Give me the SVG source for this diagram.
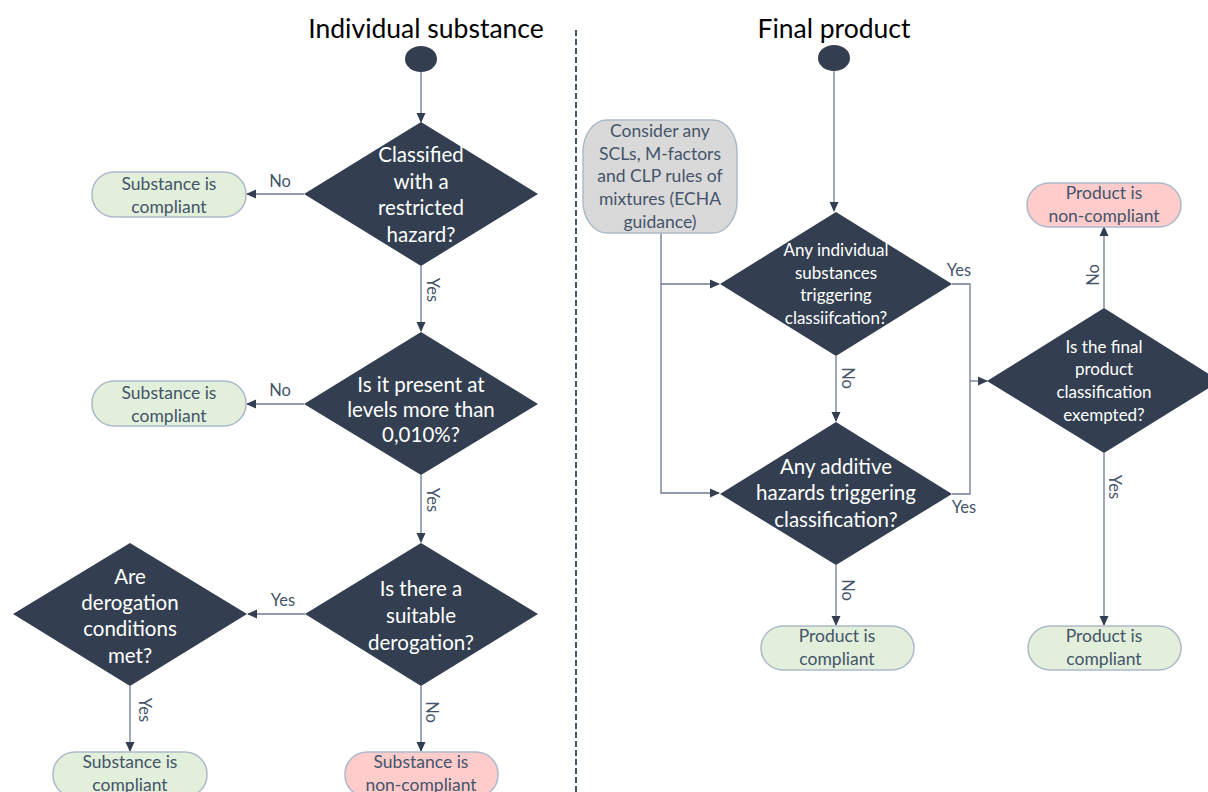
<svg xmlns="http://www.w3.org/2000/svg" width="1208" height="792" viewBox="0 0 1208 792">
<defs>
<marker id="arr" markerWidth="10" markerHeight="10" refX="9" refY="5" orient="auto" markerUnits="userSpaceOnUse">
<path d="M0,0.5 L10,5 L0,9.5 z" fill="#333F50"/>
</marker>
<style>
.dia{fill:#333F50;}
.dt{fill:#FFFFFF;font-family:Lato,"Liberation Sans",sans-serif;text-anchor:middle;}
.big{font-size:20.5px;}
.sm{font-size:17px;}
.term{stroke:#ADB9CA;stroke-width:1.5;}
.green{fill:#E2EFDA;}
.red{fill:#FFCCCC;}
.grey{fill:#D9D9D9;}
.tt{fill:#44546A;font-family:Lato,"Liberation Sans",sans-serif;font-size:17.5px;text-anchor:middle;}
.start{fill:#333F50;}
.title{fill:#000000;font-family:Lato,"Liberation Sans",sans-serif;font-size:26.5px;text-anchor:middle;}
.edge{fill:none;stroke:#6B7A90;stroke-width:1.3;}
.lbl{fill:#44546A;font-family:Lato,"Liberation Sans",sans-serif;font-size:16.5px;text-anchor:middle;}
</style>
</defs>
<rect width="1208" height="792" fill="#FFFFFF"/>

<g id="titles">
<text class="title" x="426" y="38">Individual substance</text>
<text class="title" x="834" y="38">Final product</text>
</g>
<line id="divider" x1="576" y1="30" x2="576" y2="792" stroke="#44546A" stroke-width="2" stroke-dasharray="6,3"/>

<g id="connectors">
<line class="edge" x1="421" y1="72" x2="421" y2="122" marker-end="url(#arr)"/>
<line class="edge" x1="304" y1="194" x2="247" y2="194" marker-end="url(#arr)"/>
<line class="edge" x1="421" y1="266" x2="421" y2="331" marker-end="url(#arr)"/>
<line class="edge" x1="304" y1="404" x2="247" y2="404" marker-end="url(#arr)"/>
<line class="edge" x1="421" y1="475" x2="421" y2="542" marker-end="url(#arr)"/>
<line class="edge" x1="305" y1="614" x2="248" y2="614" marker-end="url(#arr)"/>
<line class="edge" x1="130" y1="686" x2="130" y2="751" marker-end="url(#arr)"/>
<line class="edge" x1="421" y1="686" x2="421" y2="751" marker-end="url(#arr)"/>
<line class="edge" x1="834" y1="71" x2="834" y2="211" marker-end="url(#arr)"/>
<path class="edge" d="M661,233 L661,493 L719,493" marker-end="url(#arr)"/>
<path class="edge" d="M661,284 L719,284" marker-end="url(#arr)"/>
<line class="edge" x1="836" y1="356" x2="836" y2="421" marker-end="url(#arr)"/>
<path class="edge" d="M952,284 L970,284 L970,494 L952,494"/>
<path class="edge" d="M970,381 L987,381" marker-end="url(#arr)"/>
<line class="edge" x1="1104" y1="308" x2="1104" y2="227" marker-end="url(#arr)"/>
<line class="edge" x1="1104" y1="453" x2="1104" y2="625" marker-end="url(#arr)"/>
<line class="edge" x1="836" y1="565" x2="836" y2="625" marker-end="url(#arr)"/>
<text class="lbl" x="280" y="187">No</text>
<text class="lbl" x="280" y="396">No</text>
<text class="lbl" x="283" y="606">Yes</text>
<text class="lbl" transform="translate(427,290) rotate(90)">Yes</text>
<text class="lbl" transform="translate(427,500) rotate(90)">Yes</text>
<text class="lbl" transform="translate(139,710) rotate(90)">Yes</text>
<text class="lbl" transform="translate(426,712) rotate(90)">No</text>
<text class="lbl" x="959" y="276">Yes</text>
<text class="lbl" x="964" y="513">Yes</text>
<text class="lbl" transform="translate(842,378) rotate(90)">No</text>
<text class="lbl" transform="translate(842,590) rotate(90)">No</text>
<text class="lbl" transform="translate(1099,275) rotate(-90)">No</text>
<text class="lbl" transform="translate(1109,487) rotate(90)">Yes</text>
</g>

<g id="start-substance"><ellipse class="start" cx="421" cy="59" rx="16" ry="13"/></g>
<g id="start-product"><ellipse class="start" cx="834" cy="58" rx="16" ry="13"/></g>

<g id="d1">
<polygon class="dia" points="421,122 538,194 421,266 304,194"/>
<text class="dt big" x="421" y="162">Classified</text>
<text class="dt big" x="421" y="189">with a</text>
<text class="dt big" x="421" y="215">restricted</text>
<text class="dt big" x="421" y="242">hazard?</text>
</g>
<g id="t1">
<rect class="term green" x="92" y="172" width="154" height="45" rx="22"/>
<text class="tt" x="169" y="190">Substance is</text>
<text class="tt" x="169" y="213">compliant</text>
</g>

<g id="d2">
<polygon class="dia" points="421,332 538,404 421,475 304,404"/>
<text class="dt big" x="421" y="392">Is it present at</text>
<text class="dt big" x="421" y="417">levels more than</text>
<text class="dt big" x="421" y="442">0,010%?</text>
</g>
<g id="t2">
<rect class="term green" x="92" y="381" width="154" height="45" rx="22"/>
<text class="tt" x="169" y="399">Substance is</text>
<text class="tt" x="169" y="422">compliant</text>
</g>

<g id="d3">
<polygon class="dia" points="421,543 538,614 421,686 305,614"/>
<text class="dt big" x="421" y="596">Is there a</text>
<text class="dt big" x="421" y="623">suitable</text>
<text class="dt big" x="421" y="650">derogation?</text>
</g>
<g id="d4">
<polygon class="dia" points="130,543 247,614 130,686 13,614"/>
<text class="dt big" x="130" y="584">Are</text>
<text class="dt big" x="130" y="610">derogation</text>
<text class="dt big" x="130" y="636">conditions</text>
<text class="dt big" x="130" y="663">met?</text>
</g>
<g id="t3">
<rect class="term green" x="53" y="752" width="154" height="45" rx="22"/>
<text class="tt" x="130" y="768">Substance is</text>
<text class="tt" x="130" y="791">compliant</text>
</g>
<g id="t4">
<rect class="term red" x="345" y="752" width="153" height="45" rx="22"/>
<text class="tt" x="421" y="768">Substance is</text>
<text class="tt" x="421" y="791">non-compliant</text>
</g>

<g id="g1">
<rect class="term grey" x="583" y="120" width="154" height="113" rx="24" ry="32"/>
<text class="tt sm" x="660" y="137">Consider any</text>
<text class="tt sm" x="660" y="160">SCLs, M-factors</text>
<text class="tt sm" x="660" y="182">and CLP rules of</text>
<text class="tt sm" x="660" y="205">mixtures (ECHA</text>
<text class="tt sm" x="660" y="228">guidance)</text>
</g>

<g id="da">
<polygon class="dia" points="836,212 952,284 836,356 720,284"/>
<text class="dt sm" x="836" y="256">Any individual</text>
<text class="dt sm" x="836" y="279">substances</text>
<text class="dt sm" x="836" y="301">triggering</text>
<text class="dt sm" x="836" y="324">classiifcation?</text>
</g>
<g id="db">
<polygon class="dia" points="836,422 952,494 836,565 720,494"/>
<text class="dt big" x="836" y="474">Any additive</text>
<text class="dt big" x="836" y="500">hazards triggering</text>
<text class="dt big" x="836" y="527">classification?</text>
</g>
<g id="dc">
<polygon class="dia" points="1104,308 1220,381 1104,453 987,381"/>
<text class="dt sm" x="1104" y="353">Is the final</text>
<text class="dt sm" x="1104" y="375">product</text>
<text class="dt sm" x="1104" y="398">classification</text>
<text class="dt sm" x="1104" y="421">exempted?</text>
</g>
<g id="t5">
<rect class="term red" x="1027" y="183" width="154" height="44" rx="22"/>
<text class="tt" x="1104" y="199">Product is</text>
<text class="tt" x="1104" y="222">non-compliant</text>
</g>
<g id="t6">
<rect class="term green" x="761" y="626" width="153" height="44" rx="22"/>
<text class="tt" x="837" y="642">Product is</text>
<text class="tt" x="837" y="665">compliant</text>
</g>
<g id="t7">
<rect class="term green" x="1028" y="626" width="153" height="44" rx="22"/>
<text class="tt" x="1104" y="642">Product is</text>
<text class="tt" x="1104" y="665">compliant</text>
</g>
</svg>
